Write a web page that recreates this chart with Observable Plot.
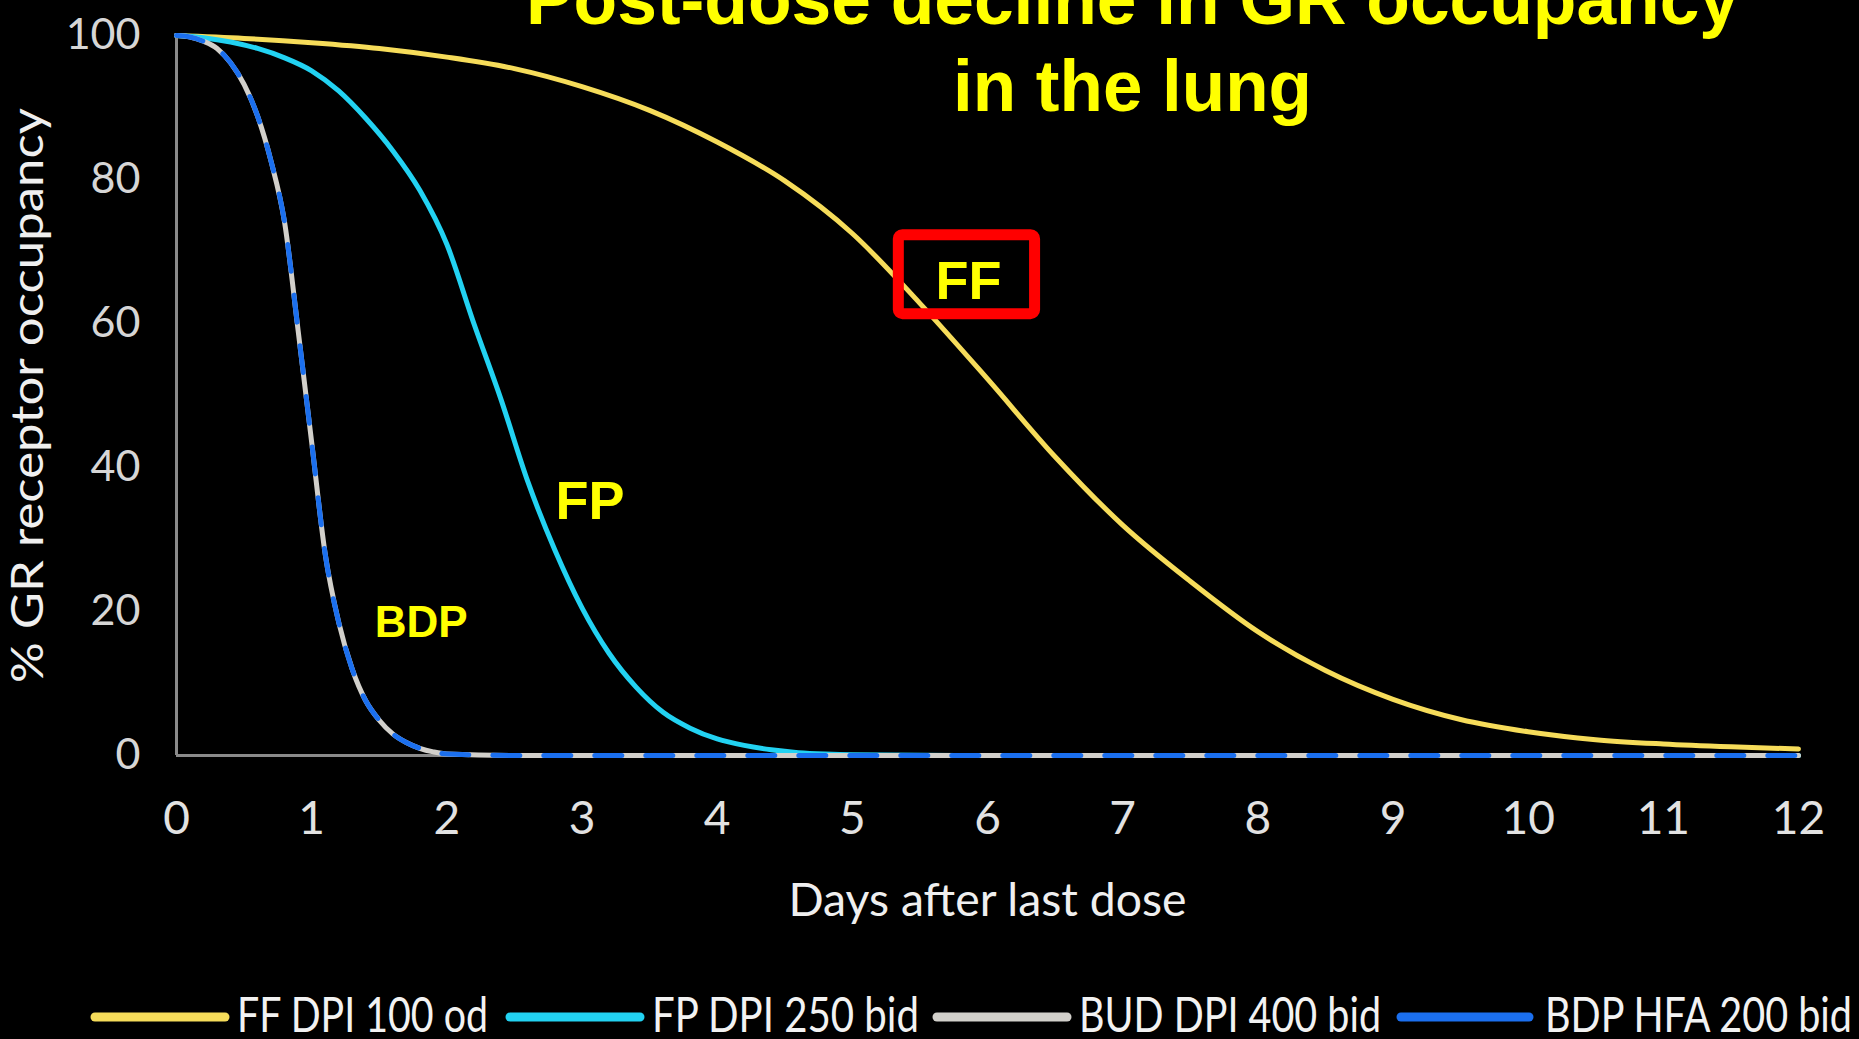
<!DOCTYPE html>
<html>
<head>
<meta charset="utf-8">
<script src="https://cdn.jsdelivr.net/npm/d3@7"></script>
<script src="https://cdn.jsdelivr.net/npm/@observablehq/plot@0.6"></script>
<style>
  html, body { margin: 0; padding: 0; background: #000; }
  body { width: 1859px; height: 1039px; overflow: hidden; position: relative; }
  #chart svg, #legend svg { display: block; }
</style>
</head>
<body>
<div id="chart"></div>
<div id="legend"></div>
<script>
// ---------- data ----------
const titleLines = ["Post-dose decline in GR occupancy", "in the lung"];
const xLabel = "Days after last dose";
const yLabel = "% GR receptor occupancy";
const xTicks = [0, 1, 2, 3, 4, 5, 6, 7, 8, 9, 10, 11, 12];
const yTicks = [0, 20, 40, 60, 80, 100];
const seriesNames = ["FF DPI 100 od", "FP DPI 250 bid", "BUD DPI 400 bid", "BDP HFA 200 bid"];

const ffDays = [0, 0.5, 1, 1.5, 2, 2.5, 3, 3.5, 4, 4.5, 5, 5.5, 6, 6.5, 7, 7.5, 8, 8.5, 9, 9.5, 10, 10.5, 11, 11.5, 12];
const ffValues = [100, 99.6, 99.0, 98.2, 97.0, 95.4, 92.9, 89.6, 85.2, 79.8, 72.5, 62.8, 52.3, 41.5, 32.0, 24.2, 17.2, 11.8, 7.8, 5.0, 3.3, 2.2, 1.6, 1.2, 0.9];

const fpDays = [0, 0.2, 0.4, 0.6, 0.8, 1.0, 1.2, 1.4, 1.6, 1.8, 2.0, 2.2, 2.4, 2.6, 2.8, 3.0, 3.2, 3.4, 3.6, 3.8, 4.0, 4.2, 4.4, 4.6, 4.8, 5.0, 6, 7, 8, 9, 10, 11, 12];
const fpValues = [100, 99.7, 99.1, 98.2, 96.9, 95.1, 92.3, 88.5, 84.0, 78.5, 71.0, 60.0, 49.5, 38.0, 28.5, 20.5, 14.2, 9.5, 6.0, 3.8, 2.3, 1.4, 0.8, 0.4, 0.2, 0.1, 0, 0, 0, 0, 0, 0, 0];

const budDays = [0, 0.1, 0.2, 0.3, 0.4, 0.5, 0.6, 0.7, 0.8, 0.9, 1.0, 1.1, 1.2, 1.3, 1.4, 1.5, 1.6, 1.7, 1.8, 1.9, 2.0, 2.5, 3, 4, 5, 6, 7, 8, 9, 10, 11, 12];
const budValues = [100, 99.8, 99.2, 98.2, 96.2, 93.2, 88.8, 82.5, 74.0, 59.0, 43.5, 28.0, 18.5, 12.0, 7.6, 4.9, 3.0, 1.8, 1.0, 0.5, 0.2, 0, 0, 0, 0, 0, 0, 0, 0, 0, 0, 0];

const bdpDays = [0, 0.1, 0.2, 0.3, 0.4, 0.5, 0.6, 0.7, 0.8, 0.9, 1.0, 1.1, 1.2, 1.3, 1.4, 1.5, 1.6, 1.7, 1.8, 1.9, 2.0, 2.5, 3, 4, 5, 6, 7, 8, 9, 10, 11, 12];
const bdpValues = [100, 99.8, 99.2, 98.2, 96.2, 93.2, 88.8, 82.5, 74.0, 59.0, 43.5, 28.0, 18.5, 12.0, 7.6, 4.9, 3.0, 1.8, 1.0, 0.5, 0.2, 0, 0, 0, 0, 0, 0, 0, 0, 0, 0, 0];

const annotationLabels = ["FF", "FP", "BDP"];
const annotationDays = [5.86, 3.06, 1.81];
const annotationValues = [65.8, 35.3, 18.4];
const boxDays = [5.344, 6.352];
const boxValues = [61.3, 72.25];

// ---------- styles ----------
const colors = ["#f6dc5a", "#22d2f2", "#d2d0cb", "#1b6fee"];
const rows = (days, vals, s) => days.map((d, i) => ({day: d, value: vals[i], series: s}));
const ffRows = rows(ffDays, ffValues, seriesNames[0]);
const fpRows = rows(fpDays, fpValues, seriesNames[1]);
const budRows = rows(budDays, budValues, seriesNames[2]);
const bdpRows = rows(bdpDays, bdpValues, seriesNames[3]);
const annotations = annotationLabels.map((t, i) => ({label: t, day: annotationDays[i], value: annotationValues[i]}));
const box = [{x1: boxDays[0], x2: boxDays[1], y1: boxValues[0], y2: boxValues[1]}];

const boldFont = "'Liberation Sans', Arial, sans-serif";
const axisGrey = "#8a8a8a";

const plot = Plot.plot({
  width: 1859,
  height: 975,
  marginLeft: 176,
  marginRight: 61,
  marginTop: 35,
  marginBottom: 220,
  style: {background: "#000", color: "#dcdcdc", fontFamily: "Lato, 'Open Sans', sans-serif", overflow: "visible"},
  x: {domain: [0, 12]},
  y: {domain: [0, 100]},
  marks: [
    Plot.axisX({ticks: xTicks, tickSize: 0, tickPadding: 46, fontSize: 46, label: null, tickFormat: d => String(d), color: "#e2e2e2"}),
    Plot.axisY({ticks: yTicks, tickSize: 0, tickPadding: 36, fontSize: 43, label: null, tickFormat: d => String(d), color: "#d6d6d6"}),
    Plot.ruleX([0], {y1: 0, y2: 100, stroke: axisGrey, strokeWidth: 3}),
    Plot.ruleY([0], {x1: 0, x2: 12, stroke: axisGrey, strokeWidth: 3}),
    Plot.line(ffRows, {x: "day", y: "value", stroke: colors[0], strokeWidth: 5, curve: "monotone-x"}),
    Plot.line(fpRows, {x: "day", y: "value", stroke: colors[1], strokeWidth: 5, curve: "monotone-x"}),
    Plot.line(budRows, {x: "day", y: "value", stroke: colors[2], strokeWidth: 5, curve: "monotone-x"}),
    Plot.line(bdpRows, {x: "day", y: "value", stroke: colors[3], strokeWidth: 5, strokeDasharray: "27,24", curve: "monotone-x"}),
    Plot.rect(box, {x1: "x1", x2: "x2", y1: "y1", y2: "y2", fill: "none", stroke: "#ff0000", strokeWidth: 11, rx: 4}),
    Plot.text(annotations, {x: "day", y: "value", text: "label", fill: "#ffff00", fontWeight: "bold", fontFamily: boldFont,
      fontSize: d => d.label === "BDP" ? 44 : 54}),
    Plot.text([titleLines[0]], {text: d => d, frameAnchor: "top", textAnchor: "middle", dx: 145, dy: -12, lineAnchor: "bottom",
      fontSize: 72, fontWeight: "bold", fontFamily: boldFont, fill: "#ffff00"}),
    Plot.text([titleLines[1]], {text: d => d, frameAnchor: "top", textAnchor: "middle", dx: 145, dy: 75, lineAnchor: "bottom",
      fontSize: 72, fontWeight: "bold", fontFamily: boldFont, fill: "#ffff00"}),
    Plot.text([xLabel], {text: d => d, frameAnchor: "bottom", textAnchor: "middle", dy: 146, lineAnchor: "middle", fontSize: 46, fill: "#efefef"}),
    Plot.text([yLabel], {text: d => d, frameAnchor: "left", textAnchor: "middle", dx: -148, rotate: -90, lineAnchor: "middle", fontSize: 44, fill: "#efefef"})
  ]
});

// condense texts to the reference's widths
const textLengths = new Map([[titleLines[0], 1213], [titleLines[1], 359], [xLabel, 398], [yLabel, 575]]);
d3.select(plot).selectAll("text").each(function () {
  const L = textLengths.get(this.textContent);
  if (L) { this.setAttribute("textLength", L); this.setAttribute("lengthAdjust", "spacingAndGlyphs"); }
});
document.getElementById("chart").appendChild(plot);

// ---------- legend ----------
const legendSwatch = [[95, 225], [510, 640], [937, 1067], [1401, 1529]];
const legendTextX = [237, 652, 1079, 1545];
const legendTextW = [251, 267, 302, 307];
const lg = d3.create("svg").attr("width", 1859).attr("height", 64).style("background", "#000");
seriesNames.forEach((name, i) => {
  lg.append("line").attr("x1", legendSwatch[i][0]).attr("x2", legendSwatch[i][1]).attr("y1", 42).attr("y2", 42)
    .attr("stroke", colors[i]).attr("stroke-width", 9).attr("stroke-linecap", "round");
  lg.append("text").attr("x", legendTextX[i]).attr("y", 57).attr("fill", "#f2f2f2")
    .attr("font-family", "Lato, 'Open Sans', sans-serif").attr("font-size", 48)
    .attr("textLength", legendTextW[i]).attr("lengthAdjust", "spacingAndGlyphs").text(name);
});
document.getElementById("legend").appendChild(lg.node());
</script>
</body>
</html>
